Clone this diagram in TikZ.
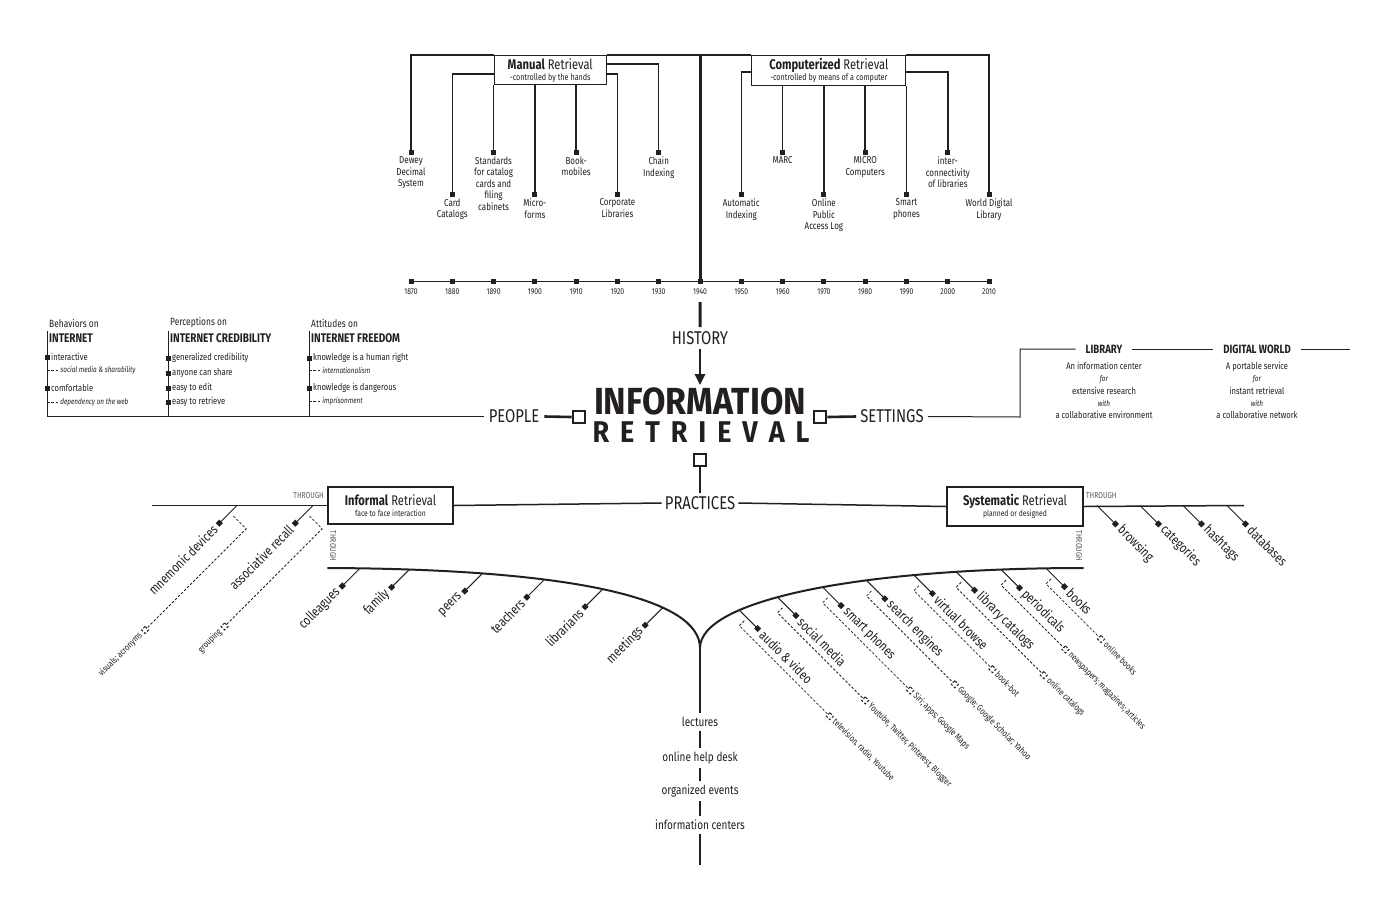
\documentclass[tikz,border=0pt]{standalone}
\usepackage{fontspec}
\setmainfont{Fira Sans}[FakeStretch=0.8]
\newfontfamily\titulo{Fira Sans}[FakeStretch=0.9]
\usepackage{graphicx}
\usetikzlibrary{arrows.meta,positioning}
\definecolor{tinta}{HTML}{231F20}

\tikzset{
  marca/.style={fill=tinta, minimum size=5pt, inner sep=0pt, outer sep=0pt},
  marcavazia/.style={draw=tinta, fill=white, line width=1pt, minimum size=5pt, inner sep=0pt, rotate=45},
  quadro/.style={draw=tinta, fill=white, line width=2.6pt, minimum size=12pt, inner sep=0pt},
  linha/.style={line width=1.5pt},
  topo/.style={line width=2pt},
  grossa/.style={line width=2.6pt},
  ramo/.style={line width=1pt},
  curva/.style={line width=2pt},
  tracos/.style={line width=0.8pt, dash pattern=on 2.5pt off 1.8pt},
  rotulo/.style={font=\fontsize{10}{11.5}\selectfont, align=center, inner sep=0pt},
  ano/.style={font=\fontsize{8.5}{9}\selectfont, inner sep=0pt},
  caixa/.style={draw=tinta, line width=1.3pt, fill=white, align=center, inner sep=0pt},
  eixo/.style={font=\fontsize{18.5}{20}\selectfont, inner sep=4pt},
  palavra/.style={font=\fontsize{13.5}{14}\selectfont, inner sep=0pt},
  nota/.style={font=\fontsize{9}{10}\selectfont, inner sep=0pt},
  through/.style={font=\fontsize{8.5}{9}\selectfont, text=black!65, inner sep=0pt},
  cab/.style={font=\fontsize{10.5}{11}\selectfont, inner sep=0pt, anchor=west},
  titcab/.style={font=\fontsize{12.5}{13}\selectfont\bfseries, inner sep=0pt, anchor=west},
  item/.style={font=\fontsize{9.5}{10}\selectfont, inner sep=0pt, anchor=west},
  itemit/.style={font=\fontsize{8}{9}\selectfont\itshape, inner sep=1pt, anchor=west},
  pratica/.style={font=\fontsize{12.5}{13}\selectfont, inner sep=4pt},
  lugar/.style={font=\fontsize{12}{13}\selectfont\bfseries, inner xsep=10pt, inner ysep=2pt},
  desc/.style={font=\fontsize{9.5}{12.2}\selectfont, align=center, inner sep=0pt, anchor=north},
}

% ramo simples para baixo-esquerda
\newcommand{\folhaesq}[2]{%
  \begin{scope}[shift={(#1)}, rotate=-135]
    \draw[ramo] (0,0) -- (25,0) node[marca, rotate=45] {};
    \node[palavra, rotate=45, anchor=east] at (31,0) {#2};
  \end{scope}}
% ramo simples para baixo-direita
\newcommand{\folhadir}[2]{%
  \begin{scope}[shift={(#1)}, rotate=-45]
    \draw[ramo] (0,0) -- (26,0) node[marca, rotate=45] {};
    \node[palavra, rotate=-45, anchor=west] at (32,0) {#2};
  \end{scope}}
% ramo com tracejado: ponto, rotulo, comprimento, nota
\newcommand{\ramoesq}[4]{%
  \folhaesq{#1}{#2}
  \begin{scope}[shift={(#1)}, rotate=-135]
    \draw[tracos] (10,-5) -- (10,-23) -- (#3,-23) node[marcavazia] {};
    \node[nota, rotate=45, anchor=east] at (#3+6,-23) {#4};
  \end{scope}}
\newcommand{\ramodir}[4]{%
  \folhadir{#1}{#2}
  \begin{scope}[shift={(#1)}, rotate=-45]
    \draw[tracos] (11,4) -- (11,11) -- (#3,11) node[marcavazia] {};
    \node[nota, rotate=-45, anchor=west] at (#3+6,11) {#4};
  \end{scope}}

\begin{document}
\begin{tikzpicture}[x=1pt, y=-1pt, color=tinta]
\fill[white] (0,0) rectangle (1400,906);
\useasboundingbox (0,0) rectangle (1400,906);

% linha do tempo
\draw[line width=0.8pt] (411,281) -- (989,281);
\foreach \ano [count=\i from 0] in {1870,1880,...,2010} {
  \node[marca] (t\ano) at (411+\i*41.29,281) {};
  \node[ano] (a\ano) at (411+\i*41.29,292) {\ano};
}

% caixas do topo
\node[caixa, minimum width=112pt, minimum height=29pt, anchor=north west] (manual) at (t1890 |- 0,55)
  {\fontsize{14}{15}\selectfont\textbf{Manual} Retrieval\\[-1pt]\fontsize{9}{10}\selectfont -controlled by the hands};
\node[caixa, minimum width=154pt, minimum height=30pt, anchor=north east] (comp) at (t1990 |- 0,55)
  {\fontsize{14}{15}\selectfont\textbf{Computerized} Retrieval\\[-1pt]\fontsize{9}{10}\selectfont -controlled by means of a computer};

% recuperacao manual
\node[marca] (dewey) at (t1870 |- 0,152) {};
\node[rotulo, below=2pt of dewey] {Dewey\\Decimal\\System};
\node[marca] (card) at (t1880 |- 0,194) {};
\node[rotulo, below=2pt of card] {Card\\Catalogs};
\node[marca] (std) at (t1890 |- 0,152) {};
\node[rotulo, below=2pt of std] {Standards\\for catalog\\cards and\\filing\\cabinets};
\node[marca] (micro) at (t1900 |- 0,194) {};
\node[rotulo, below=2pt of micro] {Micro-\\forms};
\node[marca] (book) at (t1910 |- 0,152) {};
\node[rotulo, below=2pt of book] {Book-\\mobiles};
\node[marca] (corp) at (t1920 |- 0,194) {};
\node[rotulo, below=2pt of corp] {Corporate\\Libraries};
\node[marca] (chain) at (t1930 |- 0,152) {};
\node[rotulo, below=2pt of chain] {Chain\\Indexing};
\draw[topo] (dewey) |- (manual.north west);
\draw[linha] (card) |- (manual.west |- 0,74);
\draw[linha] (std) -- (std |- manual.south);
\draw[linha] (micro) -- (micro |- manual.south);
\draw[linha] (book) -- (book |- manual.south);
\draw[linha] (corp) |- (manual.east |- 0,74);
\draw[linha] (chain) |- (manual.east |- 0,64);

% recuperacao computadorizada
\node[marca] (auto) at (t1950 |- 0,194) {};
\node[rotulo, below=2pt of auto] {Automatic\\Indexing};
\node[marca] (marc) at (t1960 |- 0,152) {};
\node[rotulo, below=2pt of marc] {MARC};
\node[marca] (opal) at (t1970 |- 0,194) {};
\node[rotulo, below=2pt of opal] {Online\\Public\\Access Log};
\node[marca] (mcomp) at (t1980 |- 0,152) {};
\node[rotulo, below=2pt of mcomp] {MICRO\\Computers};
\node[marca] (smart) at (t1990 |- 0,194) {};
\node[rotulo, below=2pt of smart] {Smart\\phones};
\node[marca] (inter) at (t2000 |- 0,152) {};
\node[rotulo, below=2pt of inter] {inter-\\connectivity\\of libraries};
\node[marca] (wdl) at (t2010 |- 0,194) {};
\node[rotulo, below=2pt of wdl] {World Digital\\Library};
\draw[linha] (auto) |- (comp.west |- 0,72);
\draw[linha] (marc) -- (marc |- comp.south);
\draw[linha] (opal) -- (opal |- comp.south);
\draw[linha] (mcomp) -- (mcomp |- comp.south);
\draw[linha] (smart) -- (smart |- comp.south);
\draw[linha] (inter) |- (comp.east |- 0,72);
\draw[topo] (wdl) |- (comp.north east);
\draw[topo] (manual.north east) -- (comp.north west);

% centro
\node[eixo] (history) at (700,338) {HISTORY};
\draw[line width=3pt] (t1940 |- 0,55) -- (t1940);
\draw[line width=3pt] (t1940 |- 0,302) -- (history.north);
\node[inner sep=0pt] (info) at (700,401) {\resizebox{212pt}{!}{\titulo\bfseries INFORMATION}};
\node[inner sep=0pt] (retr) at (701,432.5) {\titulo\bfseries\fontsize{30}{30}\selectfont
  \makebox[217pt][s]{R\hfill E\hfill T\hfill R\hfill I\hfill E\hfill V\hfill A\hfill L}};
\draw[grossa, -{Triangle[length=11pt, width=10pt]}, shorten >=2pt] (history.south) -- (info.north);
\node[eixo, inner sep=5pt] (people) at (514,416.5) {PEOPLE};
\node[eixo] (settings) at (892,416.5) {SETTINGS};
\node[eixo, inner sep=3pt] (practices) at (700,503) {PRACTICES};
\node[quadro] (qp) at (579,417) {};
\node[quadro] (qs) at (820,417) {};
\node[quadro] (qb) at (700,460) {};
\draw[grossa] (people.east) -- (qp.west);
\draw[grossa] (qs.east) -- (settings.west);
\draw[grossa] (qb.south) -- (practices.north);

% pessoas
\draw[ramo] (47,331) |- (people.west);
\draw[ramo] (168,331) -- (168,416);
\draw[ramo] (309,331) -- (309,416);
\node[cab] at (49,323) {Behaviors on};
\node[titcab] at (49,338) {INTERNET};
\node[marca] (b1) at (47,357) {};
\node[item] at (51,357) {interactive};
\draw[tracos] (47,370) -- (59,370) node[itemit] {social media \& sharability};
\node[marca] (b2) at (47,388) {};
\node[item] at (51,388) {comfortable};
\draw[tracos] (47,402) -- (59,402) node[itemit] {dependency on the web};
\node[cab] at (170,323) {Perceptions on};
\node[titcab] at (170,338) {INTERNET CREDIBILITY};
\node[marca] (p1) at (168,358) {};
\node[item] at (172,358) {generalized credibility};
\node[marca] (p2) at (168,373) {};
\node[item] at (172,373) {anyone can share};
\node[marca] (p3) at (168,388) {};
\node[item] at (172,388) {easy to edit};
\node[marca] (p4) at (168,402) {};
\node[item] at (172,402) {easy to retrieve};
\node[cab] at (311,323) {Attitudes on};
\node[titcab] at (311,338) {INTERNET FREEDOM};
\node[marca] (a1) at (309,358) {};
\node[item] at (313,358) {knowledge is a human right};
\draw[tracos] (309,370) -- (321,370) node[itemit] {internationalism};
\node[marca] (a2) at (309,388) {};
\node[item] at (313,388) {knowledge is dangerous};
\draw[tracos] (309,401) -- (321,401) node[itemit] {imprisonment};

% ambientes
\node[lugar] (library) at (1104,349) {LIBRARY};
\node[lugar] (digital) at (1257,349) {DIGITAL WORLD};
\coordinate (canto) at (1020,417);
\draw[ramo] (settings.east) -- (canto) |- (library.west);
\draw[ramo] (library.east) -- (digital.west);
\draw[ramo] (digital.east) -- (1350,349);
\node[desc] at (1104,362) {An information center\\{\fontsize{8}{12.2}\selectfont\itshape for}\\extensive research\\{\fontsize{8}{12.2}\selectfont\itshape with}\\a collaborative environment};
\node[desc] at (1257,362) {A portable service\\{\fontsize{8}{12.2}\selectfont\itshape for}\\instant retrieval\\{\fontsize{8}{12.2}\selectfont\itshape with}\\a collaborative network};

% praticas
\node[caixa, minimum width=125pt, minimum height=37pt] (informal) at (390.5,505.5)
  {\fontsize{14}{15}\selectfont\textbf{Informal} Retrieval\\[-1pt]\fontsize{8.5}{9}\selectfont face to face interaction};
\node[caixa, minimum width=136pt, minimum height=39pt] (sistematico) at (1015,506.5)
  {\fontsize{14}{15}\selectfont\textbf{Systematic} Retrieval\\[-1pt]\fontsize{8.5}{9}\selectfont planned or designed};
\draw[linha] (152,505.5) -- (informal.west);
\draw[linha] (informal.east) -- (practices.west);
\draw[linha] (practices.east) -- (sistematico.west);
\draw[linha] (sistematico.east) -- (1244,505.5);
\node[through, anchor=east] at (324,496) {THROUGH};
\node[through, anchor=west] at (1086,496) {THROUGH};
\node[through, rotate=-90] at (333,546) {THROUGH};
\node[through, rotate=-90] at (1079,546) {THROUGH};

% curvas
\coordinate (juncao) at (700,648);
\draw[curva] (informal.west |- 0,568) .. controls (580,569) and (700,600) .. (juncao)
  coordinate[pos=0.044] (i1) coordinate[pos=0.115] (i2) coordinate[pos=0.233] (i3)
  coordinate[pos=0.35] (i4) coordinate[pos=0.485] (i5) coordinate[pos=0.68] (i6);
\draw[curva] (sistematico.east |- 0,568) .. controls (860,568) and (700,600) .. (juncao)
  coordinate[pos=0.057] (s8) coordinate[pos=0.128] (s7) coordinate[pos=0.203] (s6)
  coordinate[pos=0.278] (s5) coordinate[pos=0.37] (s4) coordinate[pos=0.465] (s3)
  coordinate[pos=0.58] (s2) coordinate[pos=0.705] (s1);

% ramos
\coordinate (m1) at (237,505.5);
\coordinate (m2) at (313,505.5);
\ramoesq{m1}{mnemonic devices}{153}{visuals; acronyms}
\ramoesq{m2}{associative recall}{148}{grouping}
\folhaesq{i1}{colleagues}
\folhaesq{i2}{family}
\folhaesq{i3}{peers}
\folhaesq{i4}{teachers}
\folhaesq{i5}{librarians}
\folhaesq{i6}{meetings}
\coordinate (d1) at (1097,505.5);
\coordinate (d2) at (1140,505.5);
\coordinate (d3) at (1183,505.5);
\coordinate (d4) at (1227,505.5);
\folhadir{d1}{browsing}
\folhadir{d2}{categories}
\folhadir{d3}{hashtags}
\folhadir{d4}{databases}
\ramodir{s1}{audio \& video}{139}{television, radio, Youtube}
\ramodir{s2}{social media}{135}{Youtube, Twitter, Pinterest, Blogger}
\ramodir{s3}{smart phones}{135}{Siri; apps; Google Maps}
\ramodir{s4}{search engines}{136}{Google; Google Scholar; Yahoo}
\ramodir{s5}{virtual browse}{122}{book-bot}
\ramodir{s6}{library catalogs}{135}{online catalogs}
\ramodir{s7}{periodicals}{102}{newspapers; magazines; articles}
\ramodir{s8}{books}{89}{online books}

% eixo de baixo
\node[pratica] (lect) at (700,722) {lectures};
\node[pratica] (help) at (700,758) {online help desk};
\node[pratica] (events) at (700,791) {organized events};
\node[pratica] (centers) at (700,825) {information centers};
\coordinate (fim) at (700,865);
\draw[curva] (juncao) -- (lect.north);
\draw[curva] (lect.south) -- (help.north);
\draw[curva] (help.south) -- (events.north);
\draw[curva] (events.south) -- (centers.north);
\draw[curva] (centers.south) -- (fim);
\end{tikzpicture}
\end{document}
